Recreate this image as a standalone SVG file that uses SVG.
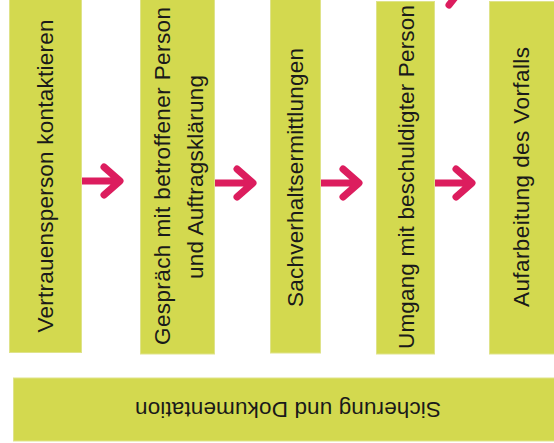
<svg xmlns="http://www.w3.org/2000/svg" width="554" height="443" viewBox="0 0 554 443">
<style>
.box{fill:#d3d94f;stroke:#dfe38a;stroke-width:1}
.t{font-family:"Liberation Sans",Arial,sans-serif;font-size:22.5px;fill:#1a1a1a;text-anchor:middle}
.c{fill:none;stroke:#dc1d5e;stroke-width:7;stroke-linecap:round;stroke-linejoin:round}
</style>
<rect width="554" height="443" fill="#ffffff"/>
<g id="connectors">
<path class="c" d="M81 181 H118 M104 167 L120 181 L104 195"/>
<path class="c" d="M214 183 H251 M237 169 L253 183 L237 197"/>
<path class="c" d="M320 183 H357 M343 169 L359 183 L343 197"/>
<path class="c" d="M434 183 H470 M456 169 L472 183 L456 197"/>
<path class="c" d="M449 5 L457 -5"/>
</g>
<g id="node1">
<rect class="box" x="9.5" y="-2" width="72" height="354.5"/>
<text class="t" transform="translate(53,176) rotate(-90)" textLength="313">Vertrauensperson kontaktieren</text>
</g>
<g id="node2">
<rect class="box" x="140.5" y="-2" width="74" height="356"/>
<text class="t" transform="translate(170,176) rotate(-90)" textLength="338">Gespräch mit betroffener Person</text>
<text class="t" transform="translate(203,177) rotate(-90)" textLength="204">und Auftragsklärung</text>
</g>
<g id="node3">
<rect class="box" x="270.5" y="-2" width="50" height="355"/>
<text class="t" transform="translate(303,177.5) rotate(-90)" textLength="259">Sachverhaltsermittlungen</text>
</g>
<g id="node4">
<rect class="box" x="376.5" y="1.5" width="58" height="352.5"/>
<text class="t" transform="translate(414,177) rotate(-90)" textLength="344">Umgang mit beschuldigter Person</text>
</g>
<g id="node5">
<rect class="box" x="489.5" y="1.5" width="70" height="352.5"/>
<text class="t" transform="translate(529,177) rotate(-90)" textLength="260">Aufarbeitung des Vorfalls</text>
</g>
<g id="node6">
<rect class="box" x="13.5" y="378" width="546" height="63"/>
<text class="t" transform="translate(288,402) rotate(180)" textLength="306">Sicherung und Dokumentation</text>
</g>
</svg>
